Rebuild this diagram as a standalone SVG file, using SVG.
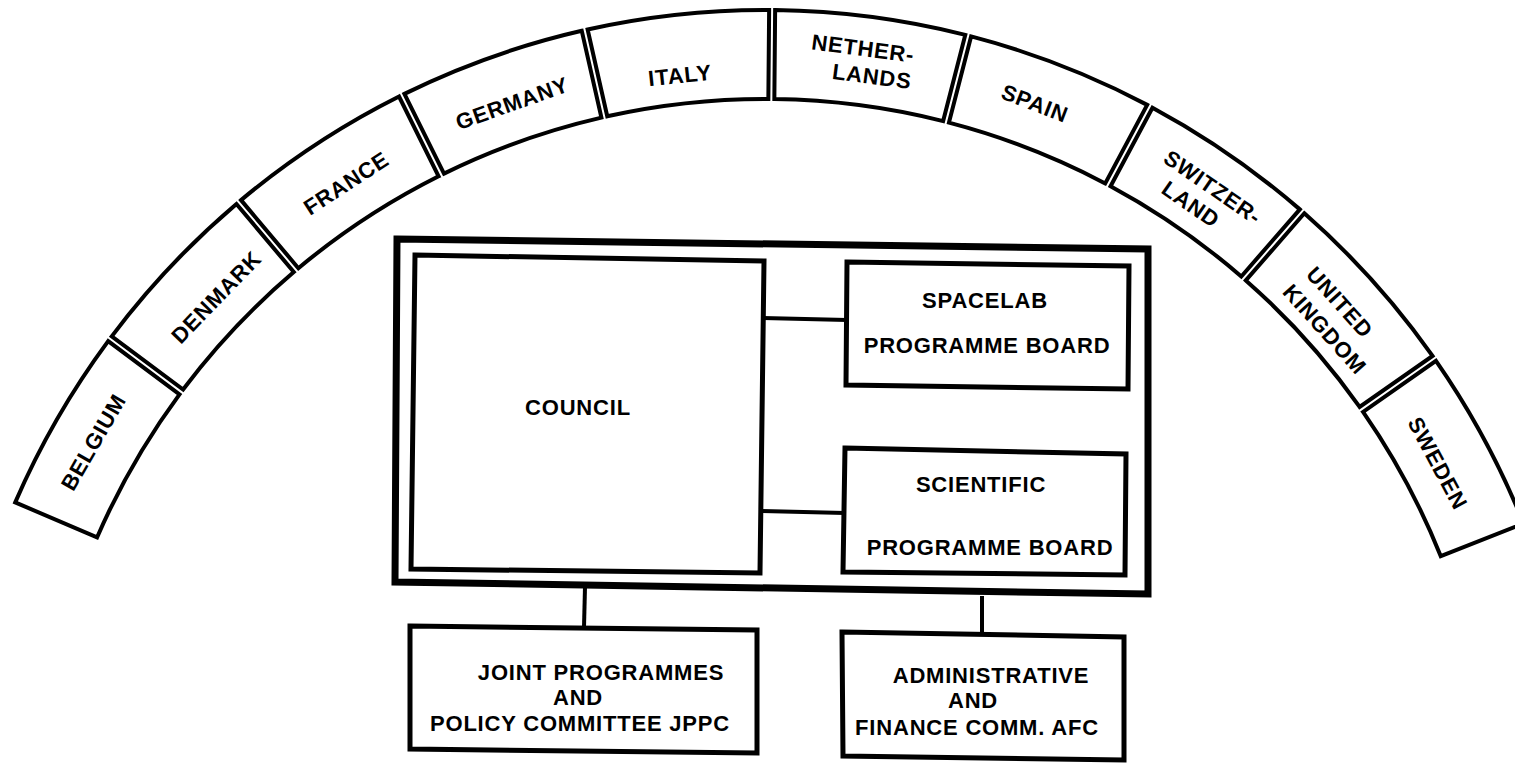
<svg xmlns="http://www.w3.org/2000/svg" width="1515" height="764" viewBox="0 0 1515 764">
<style>
.seg{fill:#fff;stroke:#000;stroke-width:4;stroke-linejoin:miter}
.box{fill:#fff;stroke:#000;stroke-width:5;stroke-linejoin:miter}
.outer{fill:#fff;stroke:#000;stroke-width:7;stroke-linejoin:miter}
.ln{fill:none;stroke:#000;stroke-width:4}
text{font-family:"Liberation Sans",Arial,Helvetica,sans-serif;font-weight:bold;font-size:22px;fill:#000;text-anchor:middle;letter-spacing:0.8px}
</style>
<rect width="1515" height="764" fill="#fff"/>
<g id="arch">
<g id="belgium">
<path class="seg" d="M 15.24 502.39 A 817 817 0 0 1 108.16 341.15 L 179.51 394.34 A 728 728 0 0 0 97.05 537.45 Z"/>
<text transform="translate(93,442) rotate(-60)" y="8">BELGIUM</text>
</g>
<g id="denmark">
<path class="seg" d="M 111.74 336.33 A 817 817 0 0 1 236.46 203.99 L 293.79 272.07 A 728 728 0 0 0 183.09 389.52 Z"/>
<text transform="translate(216,297) rotate(-46)" y="8">DENMARK</text>
</g>
<g id="france">
<path class="seg" d="M 241.04 200.13 A 817 817 0 0 1 399.04 96.53 L 438.61 176.25 A 728 728 0 0 0 298.37 268.21 Z"/>
<text transform="translate(346,183) rotate(-33)" y="8">FRANCE</text>
</g>
<g id="germany">
<path class="seg" d="M 404.42 93.87 A 817 817 0 0 1 581.76 30.81 L 601.40 117.61 A 728 728 0 0 0 443.99 173.59 Z"/>
<text transform="translate(512,103) rotate(-19.5)" y="8">GERMANY</text>
</g>
<g id="italy">
<path class="seg" d="M 587.62 29.49 A 817 817 0 0 1 769.13 10.00 L 768.36 99.00 A 728 728 0 0 0 607.26 116.29 Z"/>
<text transform="translate(680,75) rotate(-6)" y="8">ITALY</text>
</g>
<g id="netherlands">
<path class="seg" d="M 775.13 10.06 A 817 817 0 0 1 965.27 34.92 L 943.14 121.12 A 728 728 0 0 0 774.36 99.06 Z"/>
<text transform="translate(863,48) rotate(7.5)" y="8">NETHER-</text>
<text transform="translate(872,76) rotate(7.5)" y="8">LANDS</text>
</g>
<g id="spain">
<path class="seg" d="M 971.09 36.42 A 817 817 0 0 1 1147.17 104.89 L 1105.25 183.40 A 728 728 0 0 0 948.96 122.62 Z"/>
<text transform="translate(1035,103) rotate(21)" y="8">SPAIN</text>
</g>
<g id="switzerland">
<path class="seg" d="M 1152.47 107.71 A 817 817 0 0 1 1299.82 209.37 L 1241.31 276.44 A 728 728 0 0 0 1110.55 186.22 Z"/>
<text transform="translate(1213,187) rotate(34.6)" y="8">SWITZER-</text>
<text transform="translate(1191,204) rotate(34.6)" y="8">LAND</text>
</g>
<g id="united-kingdom">
<path class="seg" d="M 1304.34 213.31 A 817 817 0 0 1 1432.53 355.93 L 1359.62 406.97 A 728 728 0 0 0 1245.83 280.38 Z"/>
<text transform="translate(1340,302) rotate(48)" y="8">UNITED</text>
<text transform="translate(1325,329) rotate(48)" y="8">KINGDOM</text>
</g>
<g id="sweden">
<path class="seg" d="M 1435.97 360.85 A 817 817 0 0 1 1523.53 523.46 L 1440.78 556.14 A 728 728 0 0 0 1363.06 411.89 Z"/>
<text transform="translate(1438,463) rotate(61.7)" y="8">SWEDEN</text>
</g>
</g>
<g id="esa-frame">
<path class="outer" d="M 397 239 L 1148 249 L 1148 594 L 395 582 Z"/>
</g>
<g id="council">
<path class="box" d="M 415 255 L 764 261 L 760 573 L 411 569 Z"/>
<text x="578" y="415">COUNCIL</text>
</g>
<g id="spacelab-board">
<path class="box" d="M 847 262 L 1129 266 L 1128 389 L 846 385 Z"/>
<text x="985" y="308">SPACELAB</text>
<text x="987" y="353">PROGRAMME BOARD</text>
</g>
<g id="scientific-board">
<path class="box" d="M 845 448 L 1126 454 L 1125 575 L 843 572 Z"/>
<text x="981" y="492">SCIENTIFIC</text>
<text x="990" y="555">PROGRAMME BOARD</text>
</g>
<g id="jppc">
<path class="box" d="M 410 626 L 757 630 L 757 753 L 410 749 Z"/>
<text x="601" y="680">JOINT PROGRAMMES</text>
<text x="578" y="705">AND</text>
<text x="580" y="731">POLICY COMMITTEE JPPC</text>
</g>
<g id="afc">
<path class="box" d="M 842 632 L 1124 637 L 1124 760 L 843 756 Z"/>
<text x="991" y="683">ADMINISTRATIVE</text>
<text x="973" y="708">AND</text>
<text x="977" y="735">FINANCE COMM. AFC</text>
</g>
<g id="connectors">
<line class="ln" x1="763" y1="318" x2="847" y2="320"/>
<line class="ln" x1="761" y1="511" x2="845" y2="513"/>
<line class="ln" x1="585" y1="587" x2="584" y2="627"/>
<line class="ln" x1="982" y1="596" x2="982" y2="634"/>
</g>
</svg>
